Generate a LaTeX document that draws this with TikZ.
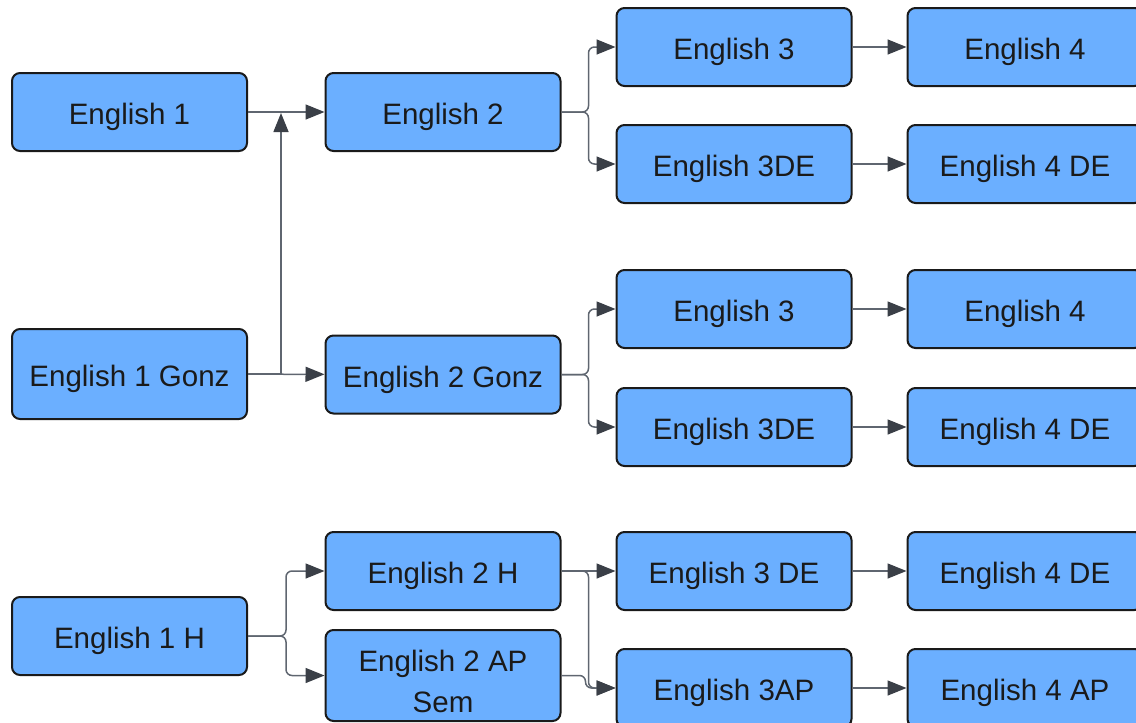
\documentclass[tikz,border=0pt]{standalone}
\usepackage{fontspec}
\setmainfont{Liberation Sans}
\usetikzlibrary{arrows.meta}

\definecolor{boxblue}{HTML}{6BAFFF}
\definecolor{boxline}{HTML}{1A1A1A}
\definecolor{linkgray}{HTML}{5F6670}
\definecolor{tipgray}{HTML}{3A3F47}

\begin{document}
\begin{tikzpicture}[x=1pt, y=-1pt]
    % Define styles
    \tikzset{
        course/.style={draw=boxline, fill=boxblue, line width=2pt, rounded corners=8pt,
            minimum width=235pt, minimum height=78pt, align=center, text=boxline,
            font=\fontsize{29.5}{41}\selectfont, inner sep=0pt,
            text height=26pt, text depth=1pt},
        link/.style={draw=linkgray, line width=1.5pt, rounded corners=6pt,
            -{Triangle[length=19pt, width=15pt, color=tipgray]}}
    }
    \useasboundingbox (0,0) rectangle (1136,723);

    % First column
    \node[course] (e1) at (129.5,112) {English 1};
    \node[course, minimum height=90pt] (e1g) at (129.5,374) {English 1 Gonz};
    \node[course] (e1h) at (129.5,636) {English 1 H};

    % Second column
    \node[course] (e2) at (443,112) {English 2};
    \node[course] (e2g) at (443,374.5) {English 2 Gonz};
    \node[course] (e2h) at (443,571) {English 2 H};
    \node[course, minimum height=91pt, text height=74.5pt, text depth=0pt] (e2ap) at (443,675.5) {English 2 AP\\Sem};

    % Third column
    \node[course] (e3a) at (734,47) {English 3};
    \node[course] (e3de) at (734,164) {English 3DE};
    \node[course] (e3b) at (734,309) {English 3};
    \node[course] (e3deb) at (734,427) {English 3DE};
    \node[course] (e3dec) at (734,571) {English 3 DE};
    \node[course] (e3ap) at (734,688) {English 3AP};

    % Fourth column
    \node[course] (e4a) at (1025,47) {English 4};
    \node[course] (e4de) at (1025,164) {English 4 DE};
    \node[course] (e4b) at (1025,309) {English 4};
    \node[course] (e4deb) at (1025,427) {English 4 DE};
    \node[course] (e4dec) at (1025,571) {English 4 DE};
    \node[course] (e4ap) at (1025,688) {English 4 AP};

    % Draw first to second column
    \coordinate (j1) at (281,113);
    \draw[link] (e1) -- (e2);
    \draw[link] (e1g) -- (e2g);
    \draw[link, sharp corners] (e1g.east) -| (j1);
    \draw[link] (e1h.east) -- ++(38,0) |- (e2h.west);
    \draw[link] (e1h.east) -- ++(38,0) |- (e2ap.west);

    % Draw second to third column
    \draw[link] (e2.east) -- ++(27,0) |- (e3a.west);
    \draw[link] (e2.east) -- ++(27,0) |- (e3de.west);
    \draw[link] (e2g.east) -- ++(27,0) |- (e3b.west);
    \draw[link] (e2g.east) -- ++(27,0) |- (e3deb.west);
    \draw[link] (e2h) -- (e3dec);
    \draw[link] (e2h.east) -- ++(27,0) |- (e3ap.west);
    \draw[link] (e2ap.east) -- ++(24,0) |- (e3ap.west);

    % Draw third to fourth column
    \foreach \from/\to in {e3a/e4a, e3de/e4de, e3b/e4b, e3deb/e4deb, e3dec/e4dec, e3ap/e4ap} {
        \draw[link] (\from) -- (\to);
    }
\end{tikzpicture}
\end{document}
